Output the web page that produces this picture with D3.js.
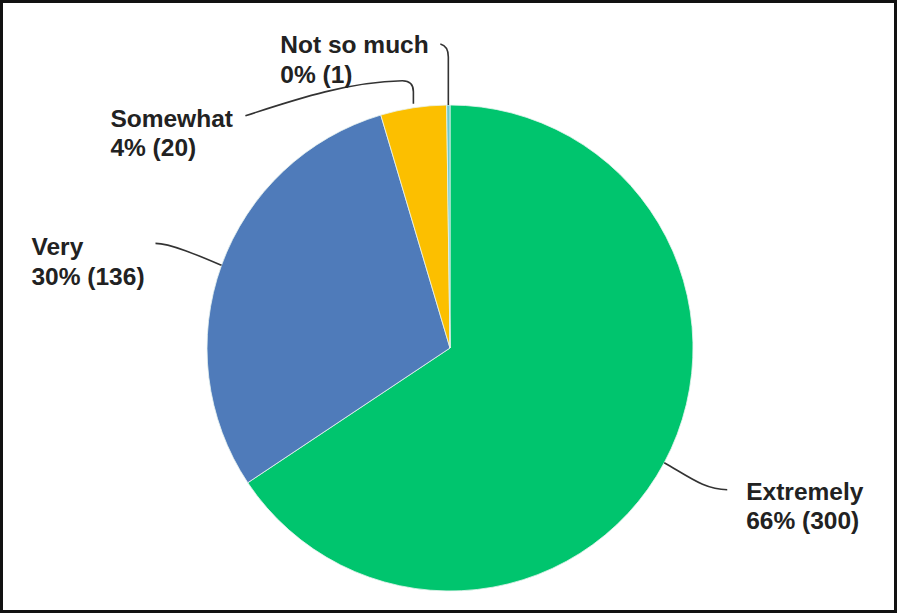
<!DOCTYPE html>
<html><head><meta charset="utf-8">
<script src="https://cdn.jsdelivr.net/npm/d3@7"></script>
<style>html,body{margin:0;padding:0;background:#fff;}svg{display:block;}</style>
</head><body>
<svg id="chart" width="897" height="613"></svg>
<script>
const categories = ["Extremely", "Very", "Somewhat", "Not so much"];
const counts = [300, 136, 20, 1];
const colors = ["#00C56E", "#4F7BBA", "#FCBF00", "#6BC8CD"];

const W = 897, H = 613;
const cx = 450, cy = 348, R = 243;
const svg = d3.select("#chart");

svg.append("rect").attr("x", 1.5).attr("y", 1.5).attr("width", W - 3).attr("height", H - 3)
  .attr("fill", "#fff").attr("stroke", "#111").attr("stroke-width", 3);

const total = d3.sum(counts);
const data = categories.map((c, i) => ({ cat: c, count: counts[i], color: colors[i] }));
const pie = d3.pie().value(d => d.count).sort(null);
const arcs = pie(data);
const arc = d3.arc().innerRadius(0).outerRadius(R);

const g = svg.append("g").attr("transform", `translate(${cx},${cy})`);
g.selectAll("path.slice").data(arcs).join("path")
  .attr("class", "slice")
  .attr("d", arc)
  .attr("fill", d => d.data.color)
  .attr("stroke", "#e8f4f0").attr("stroke-width", 0.8);

// label layout: offsets relative to the slice's outer mid-point
const layout = {
  "Extremely":   { leader: d => `M0,0 C26,15 41,27 63,27`, tx: 82, ty: 37 },
  "Very":        { leader: d => `M0,0 C-21,-9 -51,-22 -66,-22`, tx: -190, ty: -10 },
  "Somewhat":    { leader: d => `M0,-4 L0,-16 Q0,-27 -11,-27 C-63,-26 -113,-10 -168,8`, tx: -303, ty: 19 },
  "Not so much": { leader: d => `M0,0 L0,-48 Q0,-59 -8,-61`, tx: -168, ty: -52 }
};

const font = "'Liberation Sans', Arial, sans-serif";
arcs.forEach(a => {
  const mid = (a.startAngle + a.endAngle) / 2;
  const px = cx + R * Math.sin(mid), py = cy - R * Math.cos(mid);
  const L = layout[a.data.cat];
  const lg = svg.append("g").attr("transform", `translate(${px},${py})`);
  lg.append("path").attr("d", L.leader(a)).attr("fill", "none")
    .attr("stroke", "#333").attr("stroke-width", 1.6);
  const pct = Math.round(a.data.count / total * 100);
  const t = lg.append("text").attr("x", L.tx).attr("y", L.ty)
    .attr("font-family", font).attr("font-size", 24.5).attr("font-weight", 700).attr("fill", "#222");
  t.append("tspan").attr("x", L.tx).attr("dy", 0).text(a.data.cat);
  t.append("tspan").attr("x", L.tx).attr("dy", 29.5).text(`${pct}% (${a.data.count})`);
});
</script>
</body></html>
